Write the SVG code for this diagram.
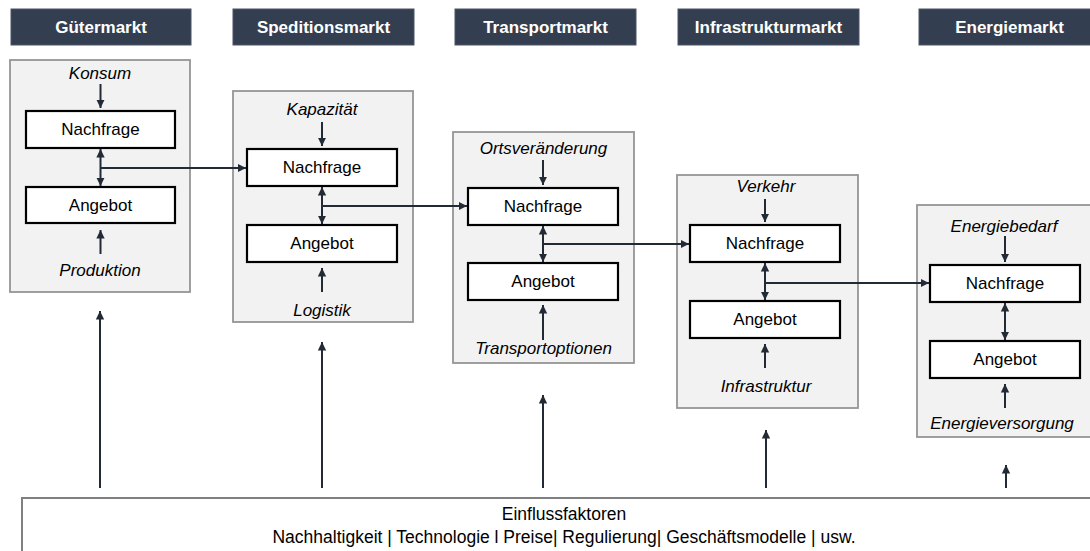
<svg xmlns="http://www.w3.org/2000/svg" width="1090" height="551" viewBox="0 0 1090 551">
  <style>
    .hdr { fill: #333f50; stroke: #4b5566; stroke-width: 1; }
    .hdr-t { font-family: "Liberation Sans", Arial, sans-serif; font-weight: bold; font-size: 17px; fill: #ffffff; text-anchor: middle; dominant-baseline: central; }
    .mkt { fill: #f2f2f2; stroke: #959595; stroke-width: 1.8; }
    .inner { fill: #ffffff; stroke: #000000; stroke-width: 2.2; }
    .lbl { font-family: "Liberation Sans", Arial, sans-serif; font-size: 17px; fill: #000000; text-anchor: middle; dominant-baseline: central; }
    .it { font-family: "Liberation Sans", Arial, sans-serif; font-style: italic; font-size: 17px; fill: #000000; text-anchor: middle; dominant-baseline: central; }
    .con { fill: none; stroke: #222a35; stroke-width: 2; }
    .one { marker-end: url(#ah); }
    .two { marker-start: url(#ah); marker-end: url(#ah); }
    .foot { fill: #ffffff; stroke: #808080; stroke-width: 2; }
    .foot-t { font-family: "Liberation Sans", Arial, sans-serif; font-size: 17.5px; fill: #000000; text-anchor: middle; }
  </style>
  <defs>
    <marker id="ah" markerUnits="userSpaceOnUse" markerWidth="10" markerHeight="10" refX="8.5" refY="5" orient="auto-start-reverse">
      <path d="M0,0.8 L8.5,5 L0,9.2 z" fill="#222a35"/>
    </marker>
  </defs>

  <rect width="1090" height="551" fill="#ffffff"/>

  <!-- column headers -->
  <g id="headers">
    <rect class="hdr" x="11" y="9" width="180" height="36"/>
    <text class="hdr-t" x="101" y="27">Gütermarkt</text>
    <rect class="hdr" x="233" y="9" width="181" height="36"/>
    <text class="hdr-t" x="323.5" y="27">Speditionsmarkt</text>
    <rect class="hdr" x="455" y="9" width="181" height="36"/>
    <text class="hdr-t" x="545.5" y="27">Transportmarkt</text>
    <rect class="hdr" x="678" y="9" width="181" height="36"/>
    <text class="hdr-t" x="768.5" y="27">Infrastrukturmarkt</text>
    <rect class="hdr" x="919" y="9" width="181" height="36"/>
    <text class="hdr-t" x="1009.5" y="27">Energiemarkt</text>
  </g>

  <!-- Gütermarkt -->
  <g id="gueter">
    <rect class="mkt" x="10" y="60" width="180" height="232"/>
    <text class="it" x="100" y="73">Konsum</text>
    <rect class="inner" x="26" y="111" width="149" height="37"/>
    <text class="lbl" x="100.5" y="129.5">Nachfrage</text>
    <rect class="inner" x="26" y="187" width="149" height="36"/>
    <text class="lbl" x="100.5" y="205">Angebot</text>
    <text class="it" x="100" y="270">Produktion</text>
  </g>

  <!-- Speditionsmarkt -->
  <g id="spedition">
    <rect class="mkt" x="233" y="91" width="180" height="231"/>
    <text class="it" x="322" y="109">Kapazität</text>
    <rect class="inner" x="247" y="149" width="150" height="37"/>
    <text class="lbl" x="322" y="167.5">Nachfrage</text>
    <rect class="inner" x="247" y="225" width="150" height="37"/>
    <text class="lbl" x="322" y="243.5">Angebot</text>
    <text class="it" x="322" y="310">Logistik</text>
  </g>

  <!-- Transportmarkt -->
  <g id="transport">
    <rect class="mkt" x="453" y="132" width="181" height="231"/>
    <text class="it" x="543.5" y="148">Ortsveränderung</text>
    <rect class="inner" x="468" y="188" width="150" height="37"/>
    <text class="lbl" x="543" y="206.5">Nachfrage</text>
    <rect class="inner" x="468" y="263" width="150" height="37"/>
    <text class="lbl" x="543" y="281.5">Angebot</text>
    <text class="it" x="543.5" y="348">Transportoptionen</text>
  </g>

  <!-- Infrastrukturmarkt -->
  <g id="infrastruktur">
    <rect class="mkt" x="677" y="175" width="181" height="233"/>
    <text class="it" x="766" y="186">Verkehr</text>
    <rect class="inner" x="690" y="225" width="150" height="37"/>
    <text class="lbl" x="765" y="243.5">Nachfrage</text>
    <rect class="inner" x="690" y="301" width="150" height="37"/>
    <text class="lbl" x="765" y="319.5">Angebot</text>
    <text class="it" x="766" y="386">Infrastruktur</text>
  </g>

  <!-- Energiemarkt -->
  <g id="energie">
    <rect class="mkt" x="917" y="205" width="181" height="232"/>
    <text class="it" x="1004" y="226">Energiebedarf</text>
    <rect class="inner" x="930" y="265" width="150" height="37"/>
    <text class="lbl" x="1005" y="283.5">Nachfrage</text>
    <rect class="inner" x="930" y="341" width="150" height="37"/>
    <text class="lbl" x="1005" y="359.5">Angebot</text>
    <text class="it" x="1002" y="423">Energieversorgung</text>
  </g>

  <!-- Einflussfaktoren -->
  <g id="einflussfaktoren">
    <rect class="foot" x="22" y="498" width="1100" height="80"/>
    <text class="foot-t" x="564" y="520">Einflussfaktoren</text>
    <text class="foot-t" x="564" y="543">Nachhaltigkeit | Technologie l Preise| Regulierung| Geschäftsmodelle | usw.</text>
  </g>

  <!-- connectors -->
  <g id="connectors">
    <!-- driver arrows into Nachfrage -->
    <line class="con one" x1="100.5" y1="84" x2="100.5" y2="108"/>
    <line class="con one" x1="322" y1="122" x2="322" y2="146"/>
    <line class="con one" x1="543" y1="160" x2="543" y2="185"/>
    <line class="con one" x1="765" y1="199" x2="765" y2="222"/>
    <line class="con one" x1="1005" y1="236" x2="1005" y2="262"/>

    <!-- driver arrows into Angebot -->
    <line class="con one" x1="100.5" y1="254" x2="100.5" y2="230"/>
    <line class="con one" x1="322" y1="292" x2="322" y2="268"/>
    <line class="con one" x1="543" y1="340" x2="543" y2="305"/>
    <line class="con one" x1="765" y1="368" x2="765" y2="344"/>
    <line class="con one" x1="1005" y1="408" x2="1005" y2="384"/>

    <!-- Nachfrage / Angebot links -->
    <line class="con two" x1="100.5" y1="149" x2="100.5" y2="186"/>
    <line class="con two" x1="322" y1="187" x2="322" y2="224"/>
    <line class="con two" x1="543" y1="226" x2="543" y2="262"/>
    <line class="con two" x1="765" y1="263" x2="765" y2="300"/>
    <line class="con two" x1="1005" y1="303" x2="1005" y2="340"/>

    <!-- demand passed on to the next market -->
    <line class="con one" x1="100.5" y1="168" x2="246" y2="168"/>
    <line class="con one" x1="322" y1="206" x2="467" y2="206"/>
    <line class="con one" x1="543" y1="244" x2="689" y2="244"/>
    <line class="con one" x1="765" y1="283" x2="929" y2="283"/>

    <!-- influence factors acting on each market -->
    <line class="con one" x1="100" y1="488" x2="100" y2="311"/>
    <line class="con one" x1="322" y1="488" x2="322" y2="342"/>
    <line class="con one" x1="543" y1="488" x2="543" y2="395"/>
    <line class="con one" x1="766" y1="488" x2="766" y2="430"/>
    <line class="con one" x1="1006" y1="488" x2="1006" y2="465"/>
  </g>
</svg>
